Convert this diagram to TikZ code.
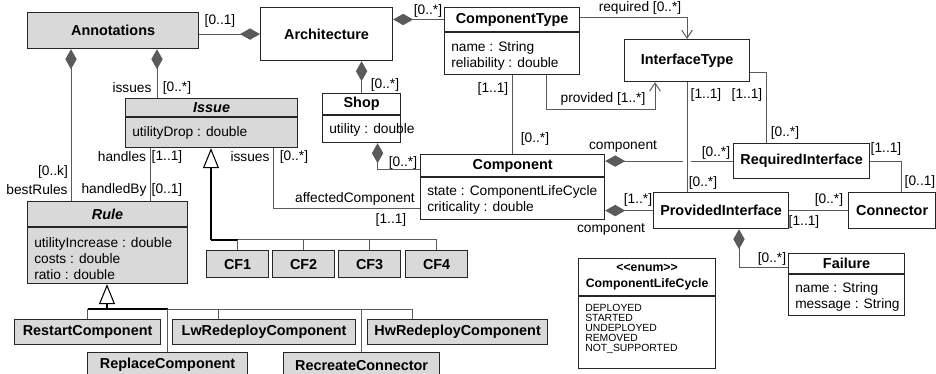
\documentclass[tikz,border=0pt]{standalone}
\usepackage{fontspec}
\setmainfont{Liberation Sans}
\usetikzlibrary{arrows.meta,calc}

\definecolor{boxgray}{RGB}{217,217,217}
\definecolor{linegray}{RGB}{90,90,90}

\tikzset{
  umlbox/.style={draw=black!85, line width=0.9pt, inner sep=0pt, anchor=north west, font=\fontsize{10.8}{12}\selectfont\bfseries},
  sepline/.style={draw=black!85, line width=0.9pt},
  cname/.style={font=\fontsize{10.8}{12}\selectfont\bfseries, inner sep=0pt},
  attrs/.style={align=left, anchor=west, inner sep=0pt},
  lbl/.style={inner sep=0pt},
  assoc/.style={draw=linegray, line width=0.75pt},
  compo/.style={assoc, {Diamond[length=15pt,width=8.5pt]}-},
  nav/.style={assoc, -{Straight Barb[length=6pt,width=8pt]}},
  genline/.style={draw=black, line width=1.5pt},
  gentip/.style={-{Triangle[length=15pt,width=12pt,fill=white,line width=0.8pt]}},
}

% caixa: nome, cor, x, y, largura, altura, texto
\newcommand{\classnode}[7]{%
  \node[umlbox, fill=#2, minimum width=#5*0.75pt, minimum height=#6*0.75pt] (#1) at (#3,#4) {#7};}
% compartimentos: nome, altura do topo, titulo, y dos atributos, atributos
\newcommand{\classparts}[5]{%
  \draw[sepline] ($(#1.north west)+(0,#2)$) -- ($(#1.north east)+(0,#2)$);
  \node[cname] (#1-t) at ($(#1.north)+(0,#2/2)$) {#3};
  \node[attrs] (#1-a) at ($(#1.north west)+(7,#4)$) {#5};}

\begin{document}
\begin{tikzpicture}[x=0.75pt, y=-0.75pt, font=\fontsize{10.3}{12}\selectfont]
  \clip (0,0) rectangle (936,374);

  % Classes
  \classnode{annot}{boxgray}{27}{12}{171}{36}{Annotations}
  \classnode{arch}{white}{260}{7}{132}{53}{Architecture}
  \classnode{ctype}{white}{444}{7}{135}{67}{}
  \classnode{shop}{white}{322}{93}{78}{49}{}
  \classnode{comp}{white}{420}{154}{184}{65}{}
  \classnode{itype}{white}{624}{39}{125}{42}{InterfaceType}
  \classnode{rint}{white}{733}{143}{136}{35}{RequiredInterface}
  \classnode{pint}{white}{653}{192}{135}{36}{ProvidedInterface}
  \classnode{conn}{white}{848}{192}{87}{36}{Connector}
  \classnode{fail}{white}{788}{253}{116}{62}{}
  \classnode{lcyc}{white}{578}{258}{137}{110}{}
  \classnode{issue}{boxgray}{125}{98}{172}{49}{}
  \classnode{rule}{boxgray}{27}{201}{160}{82}{}

  \classparts{ctype}{25}{ComponentType}{48.5}{name : String\\reliability : double}
  \classparts{shop}{22}{Shop}{37}{utility : double}
  \classparts{comp}{23}{Component}{46}{state : ComponentLifeCycle\\criticality : double}
  \classparts{fail}{21}{Failure}{44}{name : String\\message : String}
  \classparts{issue}{19}{\textit{Issue}}{35}{utilityDrop : double}
  \classparts{rule}{26}{\textit{Rule}}{57.5}{utilityIncrease : double\\costs : double\\ratio : double}

  % Enumeracao
  \draw[sepline] ($(lcyc.north west)+(0,38)$) -- ($(lcyc.north east)+(0,38)$);
  \node[cname, align=center, font=\fontsize{9.2}{11.5}\selectfont\bfseries] (lcyc-t)
    at ($(lcyc.north)+(0,19)$) {{<}{<}enum{>}{>}\\ComponentLifeCycle};
  \node[attrs, font=\fontsize{7.8}{7.6}\selectfont] (lcyc-a) at ($(lcyc.north west)+(7,71)$)
    {DEPLOYED\\STARTED\\UNDEPLOYED\\REMOVED\\NOT\_SUPPORTED};

  % Subclasses
  \foreach \i/\x in {1/206,2/272,3/338,4/405}
    {\classnode{cf\i}{boxgray}{\x}{250}{62}{27}{CF\i}}
  \foreach \n/\x/\y/\w/\t in {restart/14/319/146/RestartComponent,
                              lwre/172/319/183/LwRedeployComponent,
                              hwre/367/319/180/HwRedeployComponent,
                              repl/87/352/160/ReplaceComponent,
                              recr/283/352/156/RecreateConnector}
    {\classnode{\n}{boxgray}{\x}{\y}{\w}{25}{\t}}

  % Associacoes
  \draw[compo] (arch.west) -- (arch.west -| annot.east);
  \draw[compo] (arch.east |- ctype-t) -- (ctype.west |- ctype-t);
  \draw[compo] (shop.north |- arch.south) -- (shop.north);
  \draw[compo] ($(shop.south)+(16,0)$) |- ($(comp.north west)+(0,16)$);
  \draw[assoc] (comp.north |- ctype.south) -- (comp.north);
  \draw[nav] ($(ctype.south west)+(102,0)$) |- ($(itype.south west)+(31,27)$) -- ($(itype.south west)+(31,0)$);
  \draw[nav] ($(ctype.north east)+(0,11)$) -| ($(itype.north west)+(63,0)$);
  \draw[assoc] ($(itype.south east)+(0,-10)$) -| ($(rint.north west)+(33,0)$);
  \draw[compo] (comp.east |- rint.west) -- (rint.west);
  \coordinate (pv) at ($(pint.north west)+(34,0)$);
  \draw[white, line width=3pt] ($(pv |- rint.west)+(-4,0)$) -- ($(pv |- rint.west)+(4,0)$);
  \draw[assoc] (pv |- itype.south) -- (pv);
  \draw[compo] (comp.east |- pint.west) -- (pint.west);
  \draw[assoc] (pint.east) -- (conn.west);
  \draw[assoc] (rint.east) -| ($(conn.north west)+(53,0)$);
  \draw[compo] ($(pint.south west)+(86,0)$) |- ($(fail.north west)+(0,15)$);
  \coordinate (ai) at ($(issue.north west)+(32,0)$);
  \draw[compo] (ai |- annot.south) -- (ai);
  \coordinate (ar) at ($(rule.north west)+(44,0)$);
  \draw[compo] (ar |- annot.south) -- (ar);
  \coordinate (ir) at ($(rule.north west)+(123,0)$);
  \draw[assoc] (ir |- issue.south) -- (ir);
  \draw[assoc] ($(issue.south west)+(148,0)$) |- ($(comp.north west)+(0,55)$);

  % Generalizacoes
  \coordinate (ig) at ($(issue.south west)+(86,0)$);
  \coordinate (ih) at ($(cf1.north)+(0,-10)$);
  \draw[genline, gentip] (ig |- ih) -- (ig);
  \draw[genline] (ig |- ih) -- (ih);
  \draw[assoc] (ih) -- ($(cf4.north)+(0,-10)$);
  \foreach \i in {1,...,4}
    \draw[assoc] ($(cf\i.north)+(0,-10)$) -- (cf\i.north);

  \coordinate (rg) at ($(rule.south west)+(80,0)$);
  \coordinate (rh) at ($(restart.north)+(0,-10)$);
  \coordinate (lws) at ($(lwre.north west)+(46,0)$);
  \coordinate (hws) at ($(hwre.north west)+(45,0)$);
  \draw[genline, gentip] (rg |- rh) -- (rg);
  \draw[genline] (rh) -- (repl.north |- rh);
  \draw[assoc] (repl.north |- rh) -- (hws |- rh);
  \draw[assoc] (rh) -- (restart.north);
  \draw[assoc] (repl.north |- rh) -- (repl.north);
  \draw[assoc] (lws |- rh) -- (lws);
  \draw[assoc] (recr.north |- rh) -- (recr.north);
  \draw[assoc] (hws |- rh) -- (hws);

  % Multiplicidades e papeis
  \foreach \n/\x/\y/\t in {m-aa/220/21/{[0..1]}, m-ac/428/11/{[0..*]},
      m-as/385/85/{[0..*]}, m-sc/403/163/{[0..*]},
      m-cc1/493/89/{[1..1]}, m-cc2/535/139/{[0..*]},
      m-prov/603/99/{provided [1..*]}, m-req/640/8/{required [0..*]},
      m-ir1/747/95/{[1..1]}, m-ir2/785/133/{[0..*]},
      m-ip1/706/95/{[1..1]}, m-ip2/703/183/{[0..*]},
      m-cr1/623/146/{component}, m-cr2/716/153/{[0..*]},
      m-cp1/638/200/{[1..*]}, m-cp2/611/229/{component},
      m-pc1/829/200/{[0..*]}, m-pc2/804/222/{[1..1]},
      m-rc1/886/149/{[1..1]}, m-rc2/920/182/{[0..1]},
      m-pf/772/259/{[0..*]},
      m-ai1/132/88/{issues}, m-ai2/177/88/{[0..*]},
      m-ar1/53/172/{[0..k]}, m-ar2/37/190/{bestRules},
      m-h1/122/157/{handles}, m-h2/167/157/{[1..1]},
      m-h3/114/190/{handledBy}, m-h4/167/190/{[0..1]},
      m-ic1/250/157/{issues}, m-ic2/294/157/{[0..*]},
      m-ic3/355/199/{affectedComponent}, m-ic4/391/220/{[1..1]}}
    \node[lbl] (\n) at (\x,\y) {\t};
\end{tikzpicture}
\end{document}
